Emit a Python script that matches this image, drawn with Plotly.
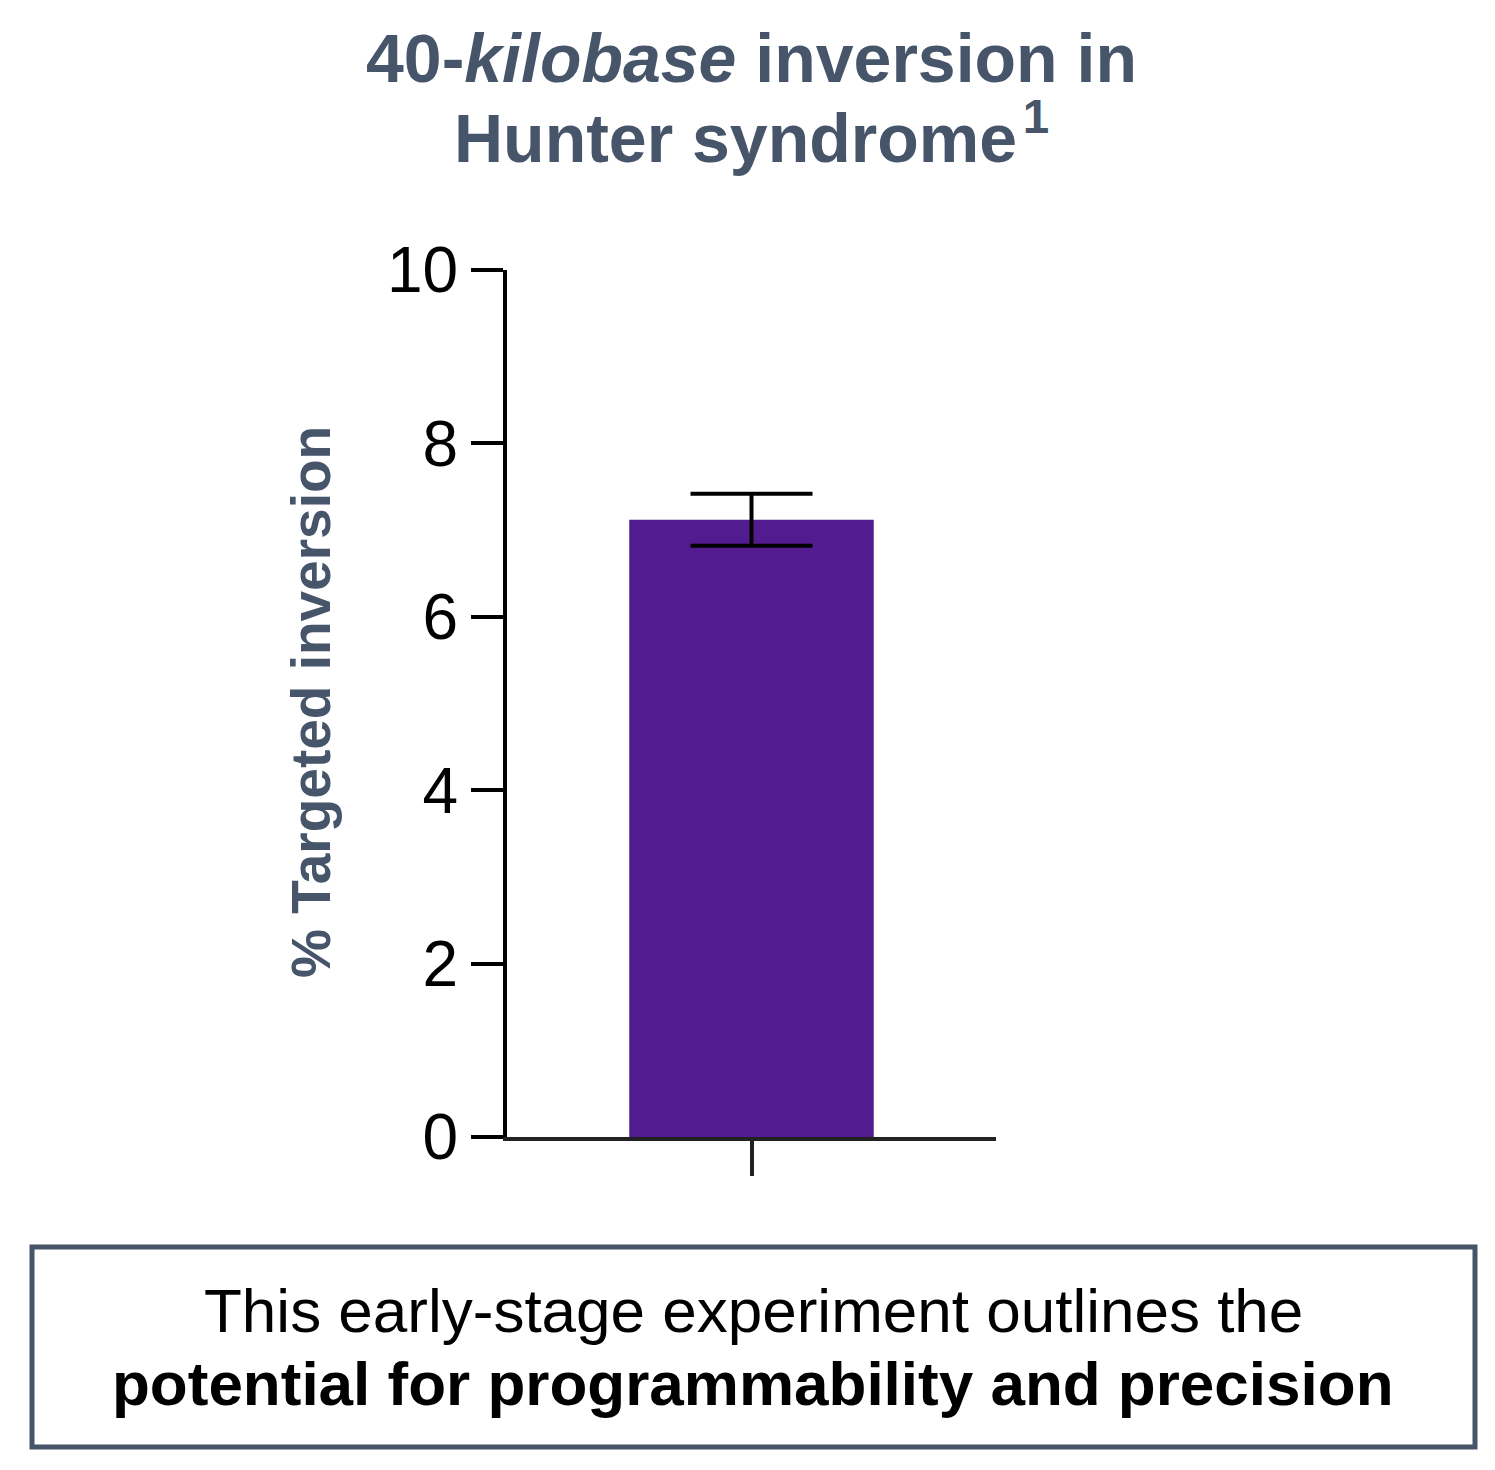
import plotly.graph_objects as go

# ---- data ----
categories = [0]
values = [7.12]
errors = [0.30]
y_ticks = [0, 2, 4, 6, 8, 10]

title_line1 = "40-<i>kilobase</i> inversion in"
title_line2 = "Hunter syndrome\u200a<sup>1</sup>"
y_title = "% Targeted inversion"
note_line1 = "This early-stage experiment outlines the"
note_line2 = "<b>potential for programmability and precision</b>"

W, H = 1495, 1470
OFFX, OFFY = 7, 8  # page body offset
L, R, T, B = 506 - OFFX, 500 + OFFX, 270 - OFFY, 333 + OFFY
PW, PH = W - L - R, H - T - B

def px_x(px):
    return (px - OFFX - L) / PW

def px_y(py):
    return (H - B - (py - OFFY)) / PH

FONT = "Liberation Sans, Arial, sans-serif"
SLATE = "#465569"

fig = go.Figure()
fig.add_trace(go.Bar(
    x=categories, y=values, width=1.0,
    marker=dict(color="#521b8f", line=dict(width=0)),
    error_y=dict(type="data", array=errors, visible=True,
                 color="black", thickness=4, width=61),
))

fig.update_layout(
    width=W, height=H,
    margin=dict(l=L, r=R, t=T, b=B),
    paper_bgcolor="white", plot_bgcolor="white",
    showlegend=False,
    font=dict(family=FONT, color="black"),
    xaxis=dict(range=[-1, 1], showgrid=False, zeroline=False,
               showline=True, linecolor="#222", linewidth=4,
               tickmode="array", tickvals=categories, ticktext=[""],
               ticks="outside", ticklen=35, tickwidth=4, tickcolor="#222"),
    yaxis=dict(range=[0, 10], showgrid=False, zeroline=False,
               showline=True, linecolor="black", linewidth=4,
               tickmode="array", tickvals=y_ticks,
               ticks="outside", ticklen=32, tickwidth=4, tickcolor="black",
               ticklabelstandoff=0,
               tickfont=dict(size=64, family=FONT, color="black")),
)

anns = [
    dict(text="<b>" + title_line1 + "</b>", x=px_x(750), y=px_y(58),
         font=dict(size=68, color=SLATE)),
    dict(text="<b>" + title_line2 + "</b>", x=px_x(750), y=px_y(133),
         font=dict(size=68, color=SLATE)),
    dict(text="<b>" + y_title + "</b>", x=px_x(310), y=px_y(702),
         textangle=-90, font=dict(size=55, color=SLATE)),
    dict(text=note_line1, x=px_x(752), y=px_y(1310),
         font=dict(size=62, color="black")),
    dict(text=note_line2, x=px_x(752), y=px_y(1383),
         font=dict(size=62, color="black")),
]
for a in anns:
    fig.add_annotation(xref="paper", yref="paper", showarrow=False,
                       xanchor="center", yanchor="middle", **a)

fig.add_shape(type="rect", xref="paper", yref="paper",
              x0=px_x(31), x1=px_x(1474), y0=px_y(1447), y1=px_y(1247),
              line=dict(color=SLATE, width=5), fillcolor="rgba(0,0,0,0)")

fig.write_html("out.html")
